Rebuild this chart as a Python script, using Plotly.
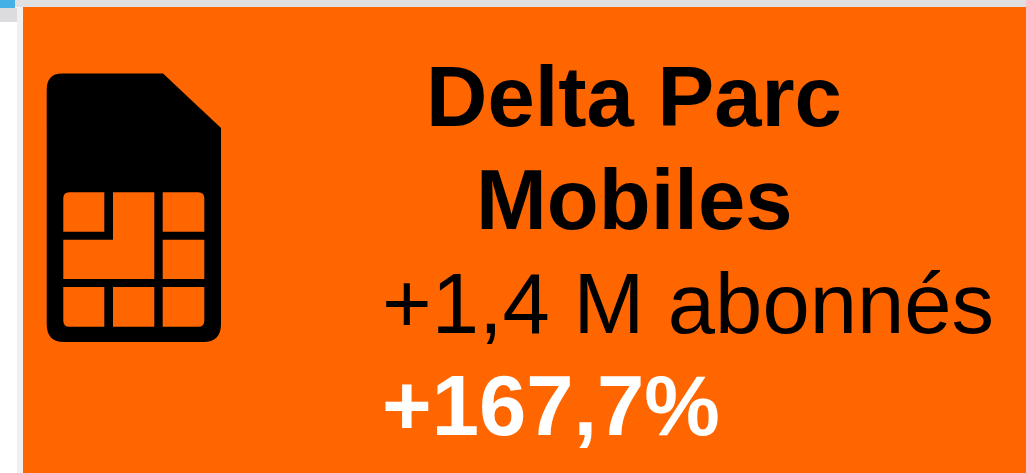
import plotly.graph_objects as go

W, H = 1026, 473
ORANGE = "#ff6600"

# Text content of the card
title_lines = ["Delta Parc", "Mobiles"]
delta_label = "+1,4 M abonnés"
delta_pct = "+167,7%"

# Icon grid: column and row edges of the SIM chip
cols = [63.3, 104.3, 113, 154.3, 162.7, 204.3]
rows = [192.3, 231.7, 239.7, 279, 287, 326.7]


def rect(x0, y0, x1, y1, color):
    return dict(type="rect", xref="x", yref="y", x0=x0, y0=y0, x1=x1, y1=y1,
                fillcolor=color, line=dict(width=0), layer="below")


def path(d, color):
    return dict(type="path", xref="x", yref="y", path=d, fillcolor=color,
                line=dict(width=0), layer="above")


def rr(x0, y0, x1, y1, tl=0, tr=0, br=0, bl=0):
    return (f"M{x0+tl},{y0} L{x1-tr},{y0} Q{x1},{y0} {x1},{y0+tr} "
            f"L{x1},{y1-br} Q{x1},{y1} {x1-br},{y1} L{x0+bl},{y1} "
            f"Q{x0},{y1} {x0},{y1-bl} L{x0},{y0+tl} Q{x0},{y0} {x0+tl},{y0} Z")


c, r = cols, rows
shapes = [
    rect(0, 0, W, 7, "#e0e0e2"),
    rect(0, 0, 15, 8, "#45b0e6"),
    rect(0, 8, 17, 22, "#dcdcde"),
    rect(17, 7, 23, H, "#f0f0f0"),
    rect(23, 7, W, H, ORANGE),
    path("M62,73.5 L163,73.5 L221,128 L221,324 Q221,342 203,342 "
         "L64,342 Q46.7,342 46.7,324 L46.7,90 Q46.7,73.5 62,73.5 Z", "#000000"),
    path(rr(c[0], r[0], c[1], r[1], tl=6), ORANGE),
    path(f"M{c[2]},{r[0]} L{c[3]},{r[0]} L{c[3]},{r[3]} L{c[0]},{r[3]} "
         f"L{c[0]},{r[2]} L{c[2]},{r[2]} Z", ORANGE),
    path(rr(c[4], r[0], c[5], r[1], tr=6), ORANGE),
    path(rr(c[4], r[2], c[5], r[3]), ORANGE),
    path(rr(c[0], r[4], c[1], r[5], bl=6), ORANGE),
    path(rr(c[2], r[4], c[3], r[5]), ORANGE),
    path(rr(c[4], r[4], c[5], r[5], br=6), ORANGE),
]

FONT = "Liberation Sans"


def label(text, x, y, anchor, color="#000000", bold=False):
    t = f"<b>{text}</b>" if bold else text
    return dict(text=t, x=x, y=y, xref="x", yref="y", xanchor=anchor, yanchor="middle",
                showarrow=False, font=dict(family=FONT, size=85, color=color))


annotations = [
    label(title_lines[0], 634, 96, "center", bold=True),
    label(title_lines[1], 634, 199, "center", bold=True),
    label(delta_label, 380, 303, "left"),
    label(delta_pct, 380, 405, "left", color="#ffffff", bold=True),
]

fig = go.Figure()
fig.update_layout(
    width=W, height=H, margin=dict(l=0, r=0, t=0, b=0),
    paper_bgcolor="#ffffff", plot_bgcolor="#ffffff", showlegend=False,
    xaxis=dict(range=[0, W], visible=False, fixedrange=True),
    yaxis=dict(range=[H, 0], visible=False, fixedrange=True),
    shapes=shapes, annotations=annotations,
)
fig.write_html("out.html", config={"displayModeBar": False},
               post_script="document.body.style.margin='0';document.body.style.overflow='hidden';")
